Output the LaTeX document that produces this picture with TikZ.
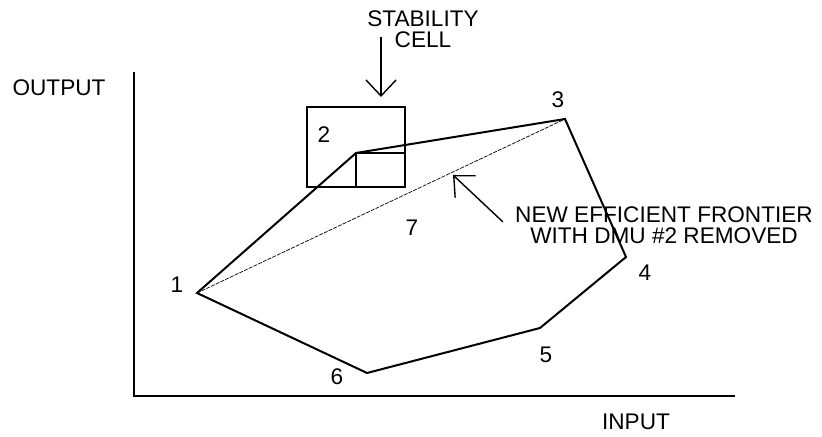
\documentclass[tikz,border=0pt]{standalone}
\usepackage{fontspec}
\setmainfont{Liberation Sans}
\usetikzlibrary{arrows.meta}
\tikzset{
  lbl/.style={inner sep=0pt, font=\fontsize{11.3}{10.5}\selectfont, align=center},
  frontier/.style={line width=1pt, line join=miter},
  barb/.style={-{Straight Barb[length=8pt,width=15pt]}, line width=0.7pt},
}
\begin{document}
\begin{tikzpicture}[x=0.5pt, y=-0.5pt]
  \useasboundingbox (0,0) rectangle (822,437);
  % axes
  \draw[line width=1pt] (134,72) -- (134,396) -- (735,396);
  \node[lbl] (out) at (59,88) {OUTPUT};
  \node[lbl] (in) at (636,422) {INPUT};
  % DMU points
  \coordinate (p1) at (197,293);
  \coordinate (p2) at (356,153);
  \coordinate (p3) at (565,119);
  \coordinate (p4) at (626,257);
  \coordinate (p5) at (540,328);
  \coordinate (p6) at (367,373);
  % DMU numbers
  \foreach \n/\x/\y in {1/177/285, 2/324/135, 3/558/100, 4/645/273, 5/546/355, 6/337/377, 7/412/228}{
    \node[lbl] (n\n) at (\x,\y) {\n};
  }
  % frontier and new frontier
  \draw[frontier] (p1) -- (p2) -- (p3) -- (p4) -- (p5) -- (p6) -- cycle;
  \draw[line width=0.35pt, dash pattern=on 2pt off 0.6pt] (p1) -- (p3);
  % stability cell
  \coordinate (cellnw) at (307,107);
  \coordinate (cellse) at (405,187);
  \draw[line width=0.6pt] (cellnw) rectangle (cellse);
  \draw[line width=0.6pt] (p2 |- cellse) -- (p2) -- (cellse |- p2);
  % labels with arrows
  \node[lbl] (stab) at (423,29) {STABILITY\\CELL};
  \coordinate (stabtail) at (381,37);
  \coordinate (stabtip) at (381,97);
  \draw[barb] (stabtail) -- (stabtip);
  \node[lbl] (newf) at (664,225) {NEW EFFICIENT FRONTIER\\WITH DMU \#2 REMOVED};
  \coordinate (newtail) at (503,222);
  \coordinate (newtip) at (453,175);
  \draw[barb] (newtail) -- (newtip);
\end{tikzpicture}
\end{document}
